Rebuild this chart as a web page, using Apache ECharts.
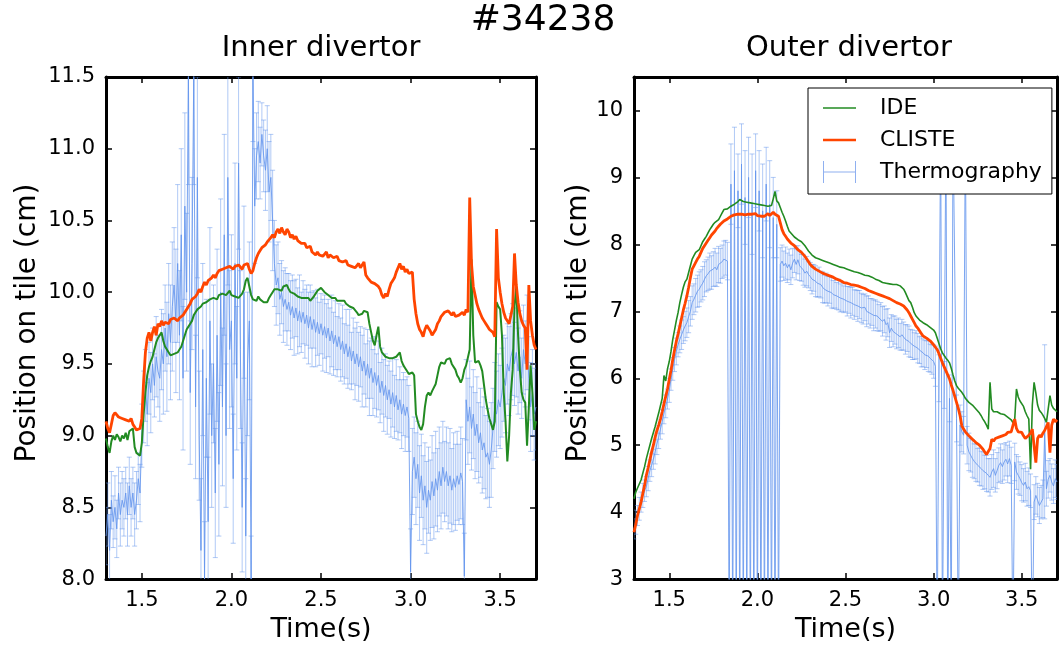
<!DOCTYPE html>
<html><head><meta charset="utf-8">
<script src="https://cdn.jsdelivr.net/npm/echarts@6/dist/echarts.min.js"></script>
<style>html,body{margin:0;padding:0;overflow:hidden;background:#fff}#c{width:1060px;height:648px}</style>
</head><body><div id="c"></div><script>
// sampling grid: 1.30 s .. 3.70 s, every 0.01 s (241 samples)
const T_START = 1.30, T_STEP = 0.01, N_SAMPLES = 241;
const times = [];
for (let i = 0; i < N_SAMPLES; i++) times.push(+(T_START + i * T_STEP).toFixed(2));

const xTicks = [1.5, 2.0, 2.5, 3.0, 3.5];
const innerYTicks = [8.0, 8.5, 9.0, 9.5, 10.0, 10.5, 11.0, 11.5];
const outerYTicks = [3, 4, 5, 6, 7, 8, 9, 10];

// ---------- Inner divertor ----------
const innerIDE = [
 8.98, 8.92, 8.88, 8.96, 9.00, 8.97, 9.01, 8.99, 8.96, 9.00,
 8.98, 9.02, 8.97, 9.03, 9.04, 9.05, 8.92, 8.88, 8.87, 8.86,
 8.95, 9.15, 9.30, 9.42, 9.48, 9.52, 9.55, 9.60, 9.65, 9.68,
 9.70, 9.72, 9.66, 9.62, 9.60, 9.58, 9.56, 9.55, 9.57, 9.56,
 9.58, 9.60, 9.62, 9.66, 9.70, 9.74, 9.76, 9.78, 9.80, 9.84,
 9.86, 9.88, 9.87, 9.90, 9.92, 9.91, 9.93, 9.92, 9.95, 9.94,
 9.96, 9.97, 9.95, 9.98, 9.97, 9.99, 10.00, 9.98, 9.99, 10.01,
 9.98, 9.99, 9.97, 9.98, 9.96, 9.97, 9.99, 10.02, 10.08, 10.10,
 10.04, 9.98, 9.95, 9.96, 9.94, 9.97, 9.95, 9.96, 9.93, 9.92,
 9.93, 9.96, 9.98, 10.00, 10.02, 10.01, 10.02, 10.03, 10.01, 10.04,
 10.04, 10.05, 10.02, 10.00, 10.01, 9.99, 9.98, 9.97, 9.98, 9.96,
 9.97, 9.96, 9.95, 9.96, 9.94, 9.95, 9.97, 9.99, 10.01, 10.02,
 10.03, 10.02, 10.00, 9.99, 9.98, 9.97, 9.96, 9.95, 9.96, 9.94,
 9.95, 9.94, 9.93, 9.94, 9.92, 9.91, 9.90, 9.91, 9.89, 9.88,
 9.86, 9.84, 9.83, 9.85, 9.87, 9.88, 9.86, 9.78, 9.72, 9.66,
 9.63, 9.70, 9.76, 9.62, 9.58, 9.57, 9.55, 9.56, 9.54, 9.53,
 9.54, 9.53, 9.55, 9.56, 9.58, 9.52, 9.49, 9.47, 9.45, 9.43,
 9.43, 9.44, 9.42, 9.15, 9.10, 9.06, 9.04, 9.08, 9.20, 9.28,
 9.30, 9.28, 9.31, 9.30, 9.36, 9.42, 9.48, 9.51, 9.52, 9.50,
 9.53, 9.52, 9.54, 9.50, 9.49, 9.46, 9.42, 9.40, 9.37, 9.40,
 9.46, 9.49, 9.50, 9.60, 10.23, 9.70, 9.51, 9.50, 9.52, 9.49,
 9.45, 9.35, 9.25, 9.18, 9.12, 9.08, 9.04, 9.10, 9.93, 9.90,
 9.88, 9.70, 9.30, 9.10, 8.82, 9.00, 9.30, 9.46, 9.90, 10.04,
 9.70, 9.46, 9.30, 9.25, 9.23, 8.93, 9.20, 9.49, 9.30, 9.04,
 9.10
];
const innerCLISTE = [
 9.10, 9.05, 9.02, 9.08, 9.14, 9.16, 9.15, 9.13, 9.14, 9.12,
 9.13, 9.11, 9.12, 9.10, 9.12, 9.08, 9.06, 9.04, 9.03, 9.05,
 9.12, 9.38, 9.58, 9.68, 9.72, 9.66, 9.72, 9.76, 9.70, 9.78,
 9.76, 9.80, 9.77, 9.79, 9.80, 9.78, 9.81, 9.80, 9.82, 9.81,
 9.80, 9.82, 9.83, 9.84, 9.86, 9.88, 9.90, 9.92, 9.95, 9.96,
 9.97, 9.99, 10.02, 10.00, 10.04, 10.07, 10.05, 10.08, 10.07, 10.10,
 10.12, 10.10, 10.13, 10.15, 10.14, 10.16, 10.15, 10.17, 10.16, 10.18,
 10.17, 10.16, 10.18, 10.17, 10.19, 10.18, 10.16, 10.19, 10.18, 10.20,
 10.16, 10.13, 10.15, 10.20, 10.24, 10.27, 10.29, 10.31, 10.30, 10.33,
 10.35, 10.36, 10.38, 10.40, 10.38, 10.42, 10.44, 10.41, 10.45, 10.42,
 10.40, 10.44, 10.42, 10.38, 10.40, 10.37, 10.39, 10.36, 10.37, 10.34,
 10.33, 10.34, 10.31, 10.30, 10.32, 10.28, 10.27, 10.26, 10.28, 10.26,
 10.27, 10.25, 10.26, 10.28, 10.24, 10.26, 10.25, 10.24, 10.23, 10.25,
 10.22, 10.23, 10.21, 10.20, 10.22, 10.19, 10.20, 10.18, 10.19, 10.17,
 10.18, 10.20, 10.17, 10.18, 10.21, 10.12, 10.10, 10.09, 10.07, 10.08,
 10.06, 10.07, 10.04, 10.02, 9.98, 9.96, 9.99, 9.97, 10.02, 10.06,
 10.08, 10.10, 10.14, 10.17, 10.20, 10.16, 10.18, 10.14, 10.16, 10.13,
 10.12, 10.14, 9.95, 9.85, 9.78, 9.74, 9.72, 9.69, 9.74, 9.77,
 9.76, 9.73, 9.70, 9.69, 9.74, 9.78, 9.80, 9.83, 9.84, 9.86,
 9.85, 9.87, 9.86, 9.84, 9.86, 9.83, 9.82, 9.84, 9.83, 9.86,
 9.84, 9.88, 9.86, 10.66, 10.20, 10.04, 9.98, 9.92, 9.88, 9.85,
 9.82, 9.80, 9.78, 9.76, 9.74, 9.75, 9.72, 9.69, 10.44, 10.10,
 10.00, 9.92, 9.86, 9.82, 9.80, 9.78, 9.77, 9.90, 10.27, 10.05,
 9.93, 9.85, 9.80, 9.77, 9.75, 9.46, 10.05, 9.80, 9.70, 9.63,
 9.60
];
const innerThermo = [
 8.30, 8.45, 8.20, 8.55, 8.40, 8.50, 8.35, 8.60, 8.45, 8.55,
 8.50, 8.60, 8.45, 8.65, 8.50, 8.60, 8.45, 8.55, 8.70, 8.60,
 9.00, 9.20, 9.35, 9.15, 9.40, 9.30, 9.50, 9.35, 9.55, 9.45,
 9.40, 9.60, 9.50, 9.75, 9.55, 9.85, 9.65, 9.90, 10.05, 9.80,
 10.20, 9.70, 10.40, 9.40, 10.60, 10.00, 11.55, 9.30, 10.20, 11.55,
 9.20, 10.80, 9.00, 8.20, 9.60, 8.00, 9.40, 8.40, 9.80, 9.00,
 9.50, 8.60, 9.70, 8.80, 10.00, 9.20, 10.40, 9.00, 10.80, 9.60,
 9.80, 8.70, 10.20, 9.40, 10.90, 9.60, 8.50, 10.00, 8.30, 9.50,
 9.80, 8.00, 11.55, 10.60, 10.95, 11.05, 10.90, 11.10, 10.95, 10.85,
 11.00, 10.70, 10.80, 10.50, 10.20, 10.05, 10.10, 9.95, 10.00, 9.90,
 9.95, 9.88, 9.93, 9.84, 9.90, 9.82, 9.89, 9.80, 9.87, 9.79,
 9.86, 9.78, 9.84, 9.75, 9.83, 9.74, 9.81, 9.72, 9.79, 9.71,
 9.78, 9.70, 9.76, 9.68, 9.75, 9.66, 9.73, 9.64, 9.70, 9.62,
 9.69, 9.60, 9.66, 9.57, 9.64, 9.55, 9.62, 9.52, 9.59, 9.50,
 9.57, 9.48, 9.55, 9.45, 9.52, 9.42, 9.50, 9.40, 9.47, 9.37,
 9.44, 9.35, 9.42, 9.30, 9.38, 9.28, 9.35, 9.25, 9.32, 9.22,
 9.30, 9.20, 9.28, 9.18, 9.25, 9.15, 9.22, 9.14, 9.20, 9.12,
 8.05, 8.75, 8.85, 8.70, 8.80, 8.60, 8.72, 8.55, 8.65, 8.50,
 8.62, 8.55, 8.68, 8.58, 8.70, 8.62, 8.75, 8.65, 8.78, 8.68,
 8.75, 8.65, 8.72, 8.62, 8.70, 8.64, 8.72, 8.66, 8.74, 8.68,
 8.02, 9.25, 9.10, 9.20, 9.05, 9.15, 9.00, 9.08, 8.95, 9.02,
 8.90, 8.95, 8.85, 8.88, 8.80, 8.90, 9.05, 9.20, 9.15, 9.25,
 9.20, 9.30, 9.40, 9.35, 9.50, 9.45, 9.55, 9.60, 9.50, 9.58,
 9.45, 9.55, 9.40, 9.60, 9.50, 9.65, 9.40, 9.20, 9.30, 9.15,
 9.20
];
const innerErr = [
 0.20, 0.22, 0.25, 0.20, 0.18, 0.22, 0.20, 0.18, 0.22, 0.20,
 0.20, 0.18, 0.22, 0.20, 0.20, 0.18, 0.22, 0.20, 0.18, 0.20,
 0.22, 0.25, 0.25, 0.22, 0.25, 0.28, 0.25, 0.22, 0.28, 0.25,
 0.30, 0.28, 0.35, 0.30, 0.38, 0.35, 0.40, 0.45, 0.40, 0.50,
 0.55, 0.45, 0.60, 0.50, 0.65, 0.55, 0.80, 0.50, 0.60, 0.80,
 0.50, 0.70, 0.45, 0.50, 0.60, 0.40, 0.55, 0.45, 0.65, 0.50,
 0.55, 0.45, 0.60, 0.50, 0.65, 0.55, 0.70, 0.50, 0.75, 0.55,
 0.60, 0.45, 0.70, 0.50, 0.60, 0.55, 0.45, 0.60, 0.40, 0.50,
 0.55, 0.30, 0.50, 0.40, 0.30, 0.28, 0.25, 0.22, 0.25, 0.28,
 0.30, 0.35, 0.30, 0.35, 0.30, 0.28, 0.25, 0.25, 0.22, 0.25,
 0.22, 0.25, 0.20, 0.24, 0.22, 0.26, 0.20, 0.23, 0.25, 0.21,
 0.22, 0.24, 0.21, 0.25, 0.22, 0.26, 0.20, 0.24, 0.23, 0.22,
 0.21, 0.25, 0.22, 0.24, 0.20, 0.23, 0.25, 0.22, 0.24, 0.21,
 0.23, 0.22, 0.25, 0.21, 0.24, 0.22, 0.26, 0.20, 0.23, 0.25,
 0.22, 0.24, 0.21, 0.25, 0.23, 0.22, 0.24, 0.26, 0.21, 0.23,
 0.25, 0.22, 0.24, 0.21, 0.23, 0.25, 0.22, 0.24, 0.20, 0.23,
 0.24, 0.22, 0.25, 0.21, 0.23, 0.24, 0.22, 0.25, 0.21, 0.23,
 0.30, 0.30, 0.28, 0.32, 0.30, 0.33, 0.29, 0.31, 0.30, 0.32,
 0.30, 0.28, 0.32, 0.30, 0.33, 0.29, 0.31, 0.30, 0.32, 0.28,
 0.31, 0.30, 0.33, 0.29, 0.32, 0.30, 0.31, 0.28, 0.32, 0.30,
 0.30, 0.28, 0.30, 0.32, 0.29, 0.31, 0.30, 0.33, 0.28, 0.31,
 0.30, 0.32, 0.29, 0.31, 0.30, 0.33, 0.28, 0.31, 0.30, 0.32,
 0.29, 0.31, 0.30, 0.33, 0.28, 0.31, 0.30, 0.32, 0.29, 0.31,
 0.30, 0.32, 0.28, 0.31, 0.30, 0.33, 0.29, 0.31, 0.30, 0.32,
 0.30
];

// ---------- Outer divertor ----------
const outerIDE = [
 4.20, 4.30, 4.36, 4.42, 4.48, 4.58, 4.68, 4.80, 4.90, 5.00,
 5.10, 5.19, 5.28, 5.38, 5.48, 5.59, 5.70, 6.04, 5.96, 6.14,
 6.25, 6.40, 6.58, 6.72, 6.86, 6.98, 7.13, 7.25, 7.36, 7.44,
 7.48, 7.58, 7.68, 7.78, 7.83, 7.88, 7.90, 7.92, 7.98, 8.04,
 8.08, 8.12, 8.17, 8.22, 8.26, 8.30, 8.33, 8.35, 8.37, 8.42,
 8.47, 8.52, 8.50, 8.53, 8.55, 8.57, 8.59, 8.60, 8.62, 8.64,
 8.67, 8.66, 8.64, 8.65, 8.63, 8.64, 8.62, 8.63, 8.61, 8.62,
 8.60, 8.62, 8.59, 8.60, 8.58, 8.60, 8.57, 8.56, 8.58, 8.68,
 8.79, 8.65, 8.62, 8.55, 8.48, 8.42, 8.35, 8.27, 8.20, 8.17,
 8.14, 8.11, 8.09, 8.07, 8.06, 8.04, 8.02, 7.98, 7.94, 7.90,
 7.87, 7.84, 7.82, 7.80, 7.79, 7.78, 7.77, 7.76, 7.75, 7.74,
 7.73, 7.72, 7.71, 7.70, 7.69, 7.68, 7.67, 7.66, 7.65, 7.65,
 7.64, 7.63, 7.62, 7.61, 7.60, 7.59, 7.58, 7.58, 7.57, 7.56,
 7.55, 7.54, 7.54, 7.53, 7.52, 7.51, 7.50, 7.48, 7.47, 7.46,
 7.44, 7.43, 7.43, 7.42, 7.42, 7.41, 7.41, 7.40, 7.40, 7.40,
 7.39, 7.38, 7.36, 7.33, 7.28, 7.22, 7.16, 7.13, 7.06, 6.98,
 6.93, 6.90, 6.87, 6.85, 6.83, 6.81, 6.80, 6.78, 6.76, 6.74,
 6.72, 6.68, 6.60, 6.52, 6.44, 6.38, 6.34, 6.30, 6.27, 6.23,
 6.15, 6.05, 5.96, 5.89, 5.85, 5.82, 5.79, 5.75, 5.70, 5.67,
 5.64, 5.62, 5.60, 5.57, 5.54, 5.51, 5.48, 5.44, 5.39, 5.35,
 5.30, 5.24, 5.94, 5.54, 5.50, 5.49, 5.50, 5.48, 5.47, 5.49,
 5.46, 5.44, 5.42, 5.40, 5.38, 5.34, 5.38, 5.84, 5.72, 5.66,
 5.64, 5.58, 5.50, 5.44, 5.39, 4.64, 5.60, 5.94, 5.78, 5.60,
 5.52, 5.49, 5.45, 5.40, 5.34, 5.34, 5.74, 5.60, 5.55, 5.54,
 5.50
];
const outerCLISTE = [
 3.70, 3.82, 3.95, 4.05, 4.15, 4.28, 4.40, 4.55, 4.66, 4.78,
 4.90, 5.00, 5.12, 5.22, 5.30, 5.39, 5.50, 5.62, 5.73, 5.84,
 5.98, 6.12, 6.28, 6.42, 6.55, 6.66, 6.78, 6.90, 7.02, 7.12,
 7.23, 7.36, 7.50, 7.63, 7.68, 7.73, 7.78, 7.82, 7.88, 7.94,
 7.98, 8.02, 8.06, 8.10, 8.14, 8.17, 8.20, 8.24, 8.27, 8.30,
 8.32, 8.35, 8.37, 8.38, 8.40, 8.42, 8.42, 8.44, 8.45, 8.45,
 8.46, 8.45, 8.47, 8.44, 8.46, 8.45, 8.47, 8.45, 8.44, 8.46,
 8.43, 8.45, 8.42, 8.44, 8.42, 8.44, 8.46, 8.43, 8.45, 8.48,
 8.45, 8.44, 8.42, 8.32, 8.22, 8.16, 8.12, 8.08, 8.05, 8.02,
 8.00, 7.98, 7.95, 7.92, 7.90, 7.88, 7.85, 7.82, 7.78, 7.74,
 7.70, 7.67, 7.65, 7.63, 7.62, 7.60, 7.58, 7.57, 7.56, 7.55,
 7.54, 7.53, 7.52, 7.51, 7.50, 7.48, 7.47, 7.46, 7.45, 7.43,
 7.43, 7.42, 7.41, 7.40, 7.40, 7.39, 7.38, 7.38, 7.37, 7.36,
 7.35, 7.34, 7.33, 7.31, 7.30, 7.29, 7.28, 7.27, 7.26, 7.25,
 7.24, 7.23, 7.23, 7.21, 7.20, 7.19, 7.17, 7.16, 7.15, 7.13,
 7.12, 7.11, 7.10, 7.08, 7.05, 7.02, 6.98, 6.93, 6.88, 6.83,
 6.78, 6.75, 6.71, 6.67, 6.63, 6.61, 6.60, 6.58, 6.56, 6.53,
 6.50, 6.48, 6.43, 6.37, 6.30, 6.23, 6.17, 6.11, 6.05, 5.99,
 5.90, 5.82, 5.73, 5.64, 5.55, 5.44, 5.29, 5.24, 5.20, 5.17,
 5.14, 5.12, 5.09, 5.07, 5.04, 5.02, 5.00, 4.97, 4.94, 4.90,
 4.86, 4.84, 4.95, 5.09, 5.06, 5.10, 5.08, 5.12, 5.11, 5.14,
 5.13, 5.16, 5.19, 5.17, 5.20, 5.22, 5.39, 5.25, 5.20, 5.18,
 5.19, 5.14, 5.10, 5.12, 5.15, 5.18, 5.24, 5.26, 4.74, 5.10,
 5.15, 5.12, 5.18, 5.22, 5.28, 5.34, 4.89, 5.30, 5.39, 5.35,
 5.38
];
const outerThermo = [
 3.75, 3.85, 3.95, 4.05, 4.15, 4.25, 4.32, 4.38, 4.50, 4.62,
 4.70, 4.79, 4.90, 5.02, 5.12, 5.24, 5.35, 5.48, 5.58, 5.69,
 5.82, 5.98, 6.14, 6.28, 6.40, 6.50, 6.58, 6.65, 6.72, 6.78,
 6.83, 6.92, 7.00, 7.13, 7.18, 7.24, 7.30, 7.33, 7.38, 7.42,
 7.48, 7.53, 7.56, 7.60, 7.58, 7.63, 7.66, 7.62, 7.70, 7.68,
 7.74, 7.78, 7.80, 7.75, 2.00, 8.90, 2.00, 9.10, 2.00, 8.80,
 2.00, 9.20, 2.00, 8.70, 2.00, 9.00, 2.00, 8.60, 2.00, 9.10,
 2.00, 8.80, 2.00, 8.50, 2.00, 8.90, 2.00, 8.60, 2.00, 8.40,
 2.00, 8.30, 2.00, 7.70, 7.75, 7.68, 7.72, 7.65, 7.70, 7.62,
 7.72, 7.78, 7.70, 7.77, 7.68, 7.65, 7.62, 7.57, 7.60, 7.55,
 7.52, 7.48, 7.50, 7.45, 7.42, 7.44, 7.40, 7.36, 7.33, 7.35,
 7.30, 7.32, 7.28, 7.25, 7.27, 7.23, 7.25, 7.20, 7.22, 7.18,
 7.20, 7.15, 7.17, 7.13, 7.15, 7.10, 7.12, 7.08, 7.10, 7.05,
 7.03, 7.06, 7.00, 7.02, 6.97, 6.99, 6.94, 6.96, 6.93, 6.90,
 6.92, 6.85, 6.88, 6.80, 6.83, 6.68, 6.75, 6.70, 6.72, 6.66,
 6.68, 6.62, 6.65, 6.63, 6.58, 6.60, 6.55, 6.52, 6.50, 6.48,
 6.50, 6.45, 6.42, 6.40, 6.38, 6.35, 6.36, 6.33, 6.30, 6.28,
 6.25, 6.18, 2.00, 6.00, 9.80, 2.00, 5.90, 9.80, 2.00, 5.70,
 2.00, 9.80, 9.80, 5.40, 2.00, 5.30, 5.20, 5.15, 9.80, 5.00,
 4.90, 4.85, 4.80, 4.76, 4.74, 4.70, 4.68, 4.65, 4.62, 4.60,
 4.58, 4.55, 4.52, 4.60, 4.65, 4.55, 4.62, 4.70, 4.74, 4.68,
 4.75, 4.79, 4.72, 4.80, 4.70, 2.00, 4.75, 4.60, 4.55, 4.50,
 4.44, 4.40, 4.45, 4.35, 4.38, 4.32, 2.00, 4.15, 4.25, 4.18,
 4.10, 4.15, 4.20, 5.20, 4.35, 4.49, 4.55, 4.45, 4.39, 4.50,
 4.45
];
const outerErr = [
 0.15, 0.18, 0.15, 0.17, 0.15, 0.18, 0.16, 0.15, 0.18, 0.16,
 0.17, 0.15, 0.18, 0.16, 0.17, 0.15, 0.18, 0.16, 0.17, 0.15,
 0.18, 0.16, 0.17, 0.18, 0.20, 0.18, 0.20, 0.22, 0.20, 0.22,
 0.22, 0.24, 0.22, 0.25, 0.23, 0.25, 0.24, 0.26, 0.24, 0.25,
 0.26, 0.24, 0.25, 0.27, 0.25, 0.26, 0.28, 0.25, 0.27, 0.26,
 0.25, 0.27, 0.26, 0.28, 0.00, 0.60, 0.00, 0.65, 0.00, 0.55,
 0.00, 0.60, 0.00, 0.70, 0.00, 0.60, 0.00, 0.75, 0.00, 0.55,
 0.00, 0.60, 0.00, 0.70, 0.00, 0.55, 0.00, 0.65, 0.00, 0.60,
 0.00, 0.50, 0.00, 0.25, 0.24, 0.22, 0.24, 0.22, 0.23, 0.22,
 0.22, 0.20, 0.23, 0.21, 0.22, 0.20, 0.23, 0.21, 0.22, 0.20,
 0.21, 0.22, 0.20, 0.23, 0.21, 0.22, 0.20, 0.23, 0.21, 0.22,
 0.22, 0.20, 0.23, 0.21, 0.22, 0.20, 0.23, 0.21, 0.22, 0.20,
 0.21, 0.22, 0.20, 0.23, 0.21, 0.22, 0.20, 0.23, 0.21, 0.22,
 0.22, 0.20, 0.23, 0.21, 0.22, 0.20, 0.23, 0.21, 0.22, 0.20,
 0.21, 0.22, 0.20, 0.23, 0.21, 0.22, 0.20, 0.23, 0.21, 0.22,
 0.22, 0.20, 0.23, 0.21, 0.22, 0.20, 0.23, 0.21, 0.22, 0.20,
 0.21, 0.22, 0.20, 0.23, 0.21, 0.22, 0.20, 0.23, 0.21, 0.22,
 0.25, 0.30, 0.00, 0.35, 0.00, 0.00, 0.35, 0.00, 0.00, 0.35,
 0.00, 0.00, 0.00, 0.35, 0.00, 0.30, 0.30, 0.28, 0.00, 0.28,
 0.28, 0.25, 0.28, 0.26, 0.28, 0.25, 0.28, 0.26, 0.28, 0.25,
 0.27, 0.25, 0.28, 0.26, 0.28, 0.25, 0.27, 0.26, 0.28, 0.25,
 0.27, 0.25, 0.28, 0.26, 0.27, 0.00, 0.28, 0.26, 0.28, 0.25,
 0.27, 0.25, 0.28, 0.26, 0.28, 0.25, 0.00, 0.26, 0.28, 0.25,
 0.27, 0.25, 0.28, 1.30, 0.26, 0.28, 0.25, 0.27, 0.26, 0.28,
 0.26
];

// ---------- styling ----------
const FONT = 'DejaVu Sans';
const BLUE = '#6495ED';
const BLUE_ERR = 'rgba(100,149,237,0.5)';
const GREEN = '#228B22';
const ORANGE = '#FF4500';

function pairs(vals) { return times.map((t, i) => [t, vals[i]]); }
function errRows(vals, errs) { return times.map((t, i) => [t, vals[i] - errs[i], vals[i] + errs[i], errs[i]]); }
function isTick(v, list) { return list.some(x => Math.abs(x - v) < 1e-6); }

function xAxisDef(grid, pos) {
  return {
    type: 'value', gridIndex: grid, position: pos, min: 1.3, max: 3.7,
    minInterval: 0.5, maxInterval: 0.5,
    axisLine: { show: true, onZero: false, lineStyle: { color: '#000', width: 3 } },
    axisTick: { show: true, inside: true, length: 6, lineStyle: { color: '#000', width: 1.5 } },
    axisLabel: { show: pos === 'bottom', margin: 11, color: '#000', fontFamily: FONT, fontSize: 21,
      formatter: v => isTick(v, xTicks) ? v.toFixed(1) : '' },
    splitLine: { show: false },
    name: pos === 'bottom' ? 'Time(s)' : '', nameLocation: 'middle', nameGap: 35,
    nameTextStyle: { color: '#000', fontFamily: FONT, fontSize: 27 }
  };
}
function yAxisDef(grid, pos, min, max, interval, ticks, digits, gap) {
  return {
    type: 'value', gridIndex: grid, position: pos, min: min, max: max, interval: interval,
    axisLine: { show: true, onZero: false, lineStyle: { color: '#000', width: 3 } },
    axisTick: { show: true, inside: true, length: 6, lineStyle: { color: '#000', width: 1.5 } },
    axisLabel: { show: pos === 'left', margin: 11, color: '#000', fontFamily: FONT, fontSize: 21,
      formatter: v => isTick(v, ticks) ? v.toFixed(digits) : '' },
    splitLine: { show: false },
    name: pos === 'left' ? 'Position on tile (cm)' : '', nameLocation: 'middle', nameGap: gap,
    nameTextStyle: { color: '#000', fontFamily: FONT, fontSize: 28, padding: [0, 0, 0, 10] }
  };
}
function errorSeries(ax, vals, errs) {
  return {
    type: 'custom', name: 'Thermography', xAxisIndex: ax, yAxisIndex: ax,
    data: errRows(vals, errs), encode: { x: 0, y: [1, 2] }, clip: true, silent: true, z: 1,
    itemStyle: { color: BLUE },
    renderItem: function (params, api) {
      if (api.value(3) <= 0) return null;
      const t = api.value(0);
      const lo = api.coord([t, api.value(1)]);
      const hi = api.coord([t, api.value(2)]);
      const c = 2.5;
      const st = { stroke: BLUE_ERR, lineWidth: 1 };
      return { type: 'group', children: [
        { type: 'line', shape: { x1: lo[0], y1: lo[1], x2: hi[0], y2: hi[1] }, style: st },
        { type: 'line', shape: { x1: lo[0] - c, y1: lo[1], x2: lo[0] + c, y2: lo[1] }, style: st },
        { type: 'line', shape: { x1: hi[0] - c, y1: hi[1], x2: hi[0] + c, y2: hi[1] }, style: st }
      ] };
    }
  };
}
function lineSeries(name, ax, vals, color, width, opacity, z) {
  return {
    type: 'line', name: name, xAxisIndex: ax, yAxisIndex: ax, data: pairs(vals),
    showSymbol: false, symbol: 'none', clip: true, z: z, silent: true,
    lineStyle: { color: color, width: width, opacity: opacity }, itemStyle: { color: color }
  };
}

const chart = echarts.init(document.getElementById('c'), null, { renderer: 'canvas' });
chart.setOption({
  animation: false,
  backgroundColor: '#fff',
  textStyle: { fontFamily: FONT },
  title: [
    { text: '#34238', left: 543, top: 3, textAlign: 'center', padding: 0,
      textStyle: { fontFamily: FONT, fontSize: 36, fontWeight: 'normal', color: '#000' } },
    { text: 'Inner divertor', left: 321, top: 34, textAlign: 'center', padding: 0,
      textStyle: { fontFamily: FONT, fontSize: 29, fontWeight: 'normal', color: '#000' } },
    { text: 'Outer divertor', left: 849, top: 34, textAlign: 'center', padding: 0,
      textStyle: { fontFamily: FONT, fontSize: 29, fontWeight: 'normal', color: '#000' } }
  ],
  grid: [
    { left: 106, top: 77, width: 430, height: 503 },
    { left: 634, top: 77, width: 430, height: 503 }
  ],
  xAxis: [xAxisDef(0, 'bottom'), xAxisDef(0, 'top'), xAxisDef(1, 'bottom'), xAxisDef(1, 'top')],
  yAxis: [
    yAxisDef(0, 'left', 8, 11.5, 0.5, innerYTicks, 1, 64),
    yAxisDef(0, 'right', 8, 11.5, 0.5, innerYTicks, 1, 64),
    yAxisDef(1, 'left', 3, 10.5, 1, outerYTicks, 0, 41),
    yAxisDef(1, 'right', 3, 10.5, 1, outerYTicks, 0, 41)
  ],
  legend: {
    orient: 'vertical', left: 808, top: 88, padding: [9, 10, 11, 15],
    itemGap: 10, itemWidth: 52, itemHeight: 22, selectedMode: false,
    backgroundColor: '#fff', borderColor: '#000', borderWidth: 1, borderRadius: 0,
    textStyle: { fontFamily: FONT, fontSize: 22, color: '#000' },
    itemStyle: { borderWidth: 0 },
    data: [
      { name: 'IDE', icon: 'path://M0,0 M52,22 M0,10.25 L33,10.25 L33,11.75 L0,11.75 Z', itemStyle: { color: GREEN, borderWidth: 0 } },
      { name: 'CLISTE', icon: 'path://M0,0 M52,22 M0,9.75 L33,9.75 L33,12.25 L0,12.25 Z', itemStyle: { color: ORANGE, borderWidth: 0 } },
      { name: 'Thermography', icon: 'path://M0,0 M52,22 M0,0 L1,0 L1,22 L0,22 Z M0,10.5 L33,10.5 L33,11.5 L0,11.5 Z M32,0 L33,0 L33,22 L32,22 Z', itemStyle: { color: '#8fb0f0', borderWidth: 0 } }
    ]
  },
  series: [
    errorSeries(0, innerThermo, innerErr),
    lineSeries('Thermography', 0, innerThermo, BLUE, 1, 0.85, 2),
    lineSeries('IDE', 0, innerIDE, GREEN, 2, 1, 3),
    lineSeries('CLISTE', 0, innerCLISTE, ORANGE, 2.8, 1, 4),
    errorSeries(2, outerThermo, outerErr),
    lineSeries('Thermography', 2, outerThermo, BLUE, 1, 0.85, 2),
    lineSeries('IDE', 2, outerIDE, GREEN, 1.6, 1, 3),
    lineSeries('CLISTE', 2, outerCLISTE, ORANGE, 2.8, 1, 4)
  ]
});
</script></body></html>
